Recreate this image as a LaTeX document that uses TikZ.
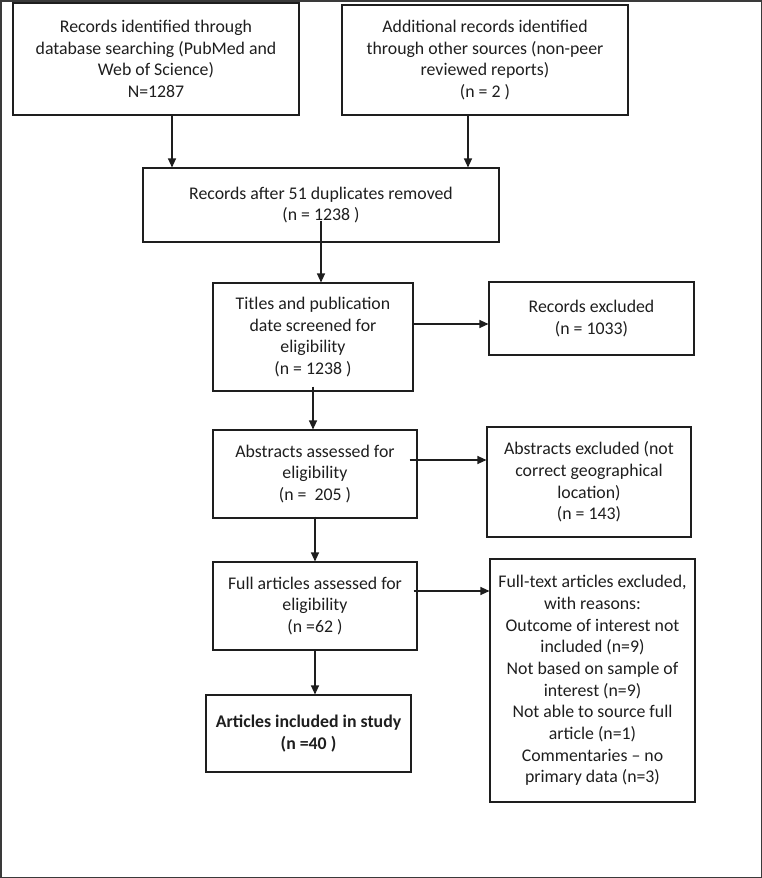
\documentclass[tikz,border=0pt]{standalone}
\usepackage{fontspec}
\setmainfont{Carlito}
\usetikzlibrary{arrows.meta}
\definecolor{ink}{HTML}{1E1E1E}
\definecolor{frame}{HTML}{3A3A3A}

\tikzset{
  box/.style={draw=ink,line width=1.1pt,align=center,inner sep=0pt,text=ink,
    font=\fontsize{17.8}{21.7}\selectfont},
  arr/.style={draw=ink,line width=1.1pt,-{Triangle[length=9pt,width=8pt]}}
}

\begin{document}
\begin{tikzpicture}[x=1pt,y=-1pt]
        \useasboundingbox (0,0) rectangle (762,878);
        \draw[frame,line width=1.5pt] (0.75,0.75) rectangle (761.25,877.25);
        % identification
        \node[box,minimum width=286pt,minimum height=112pt] (db) at (156,59)
          {Records identified through\\database searching (PubMed and\\Web of Science)\\N=1287};
        \node[box,minimum width=286pt,minimum height=110pt] (other) at (485,60)
          {Additional records identified\\through other sources (non-peer\\reviewed reports)\\(n = 2 )};
        \node[box,minimum width=356pt,minimum height=74pt] (dup) at (321,205)
          {Records after 51 duplicates removed\\(n = 1238 )};
        % screening
        \node[box,minimum width=200pt,minimum height=108pt] (titles) at (313,337)
          {Titles and publication\\date screened for\\eligibility\\(n = 1238 )};
        \node[box,minimum width=205pt,minimum height=73pt] (recex) at (591.5,318.5)
          {Records excluded\\(n = 1033)};
        \node[box,minimum width=204pt,minimum height=88pt] (abs) at (315,474)
          {Abstracts assessed for\\eligibility\\(n = \ 205 )};
        \node[box,minimum width=204pt,minimum height=110pt] (absex) at (589,482)
          {Abstracts excluded (not\\correct geographical\\location)\\(n = 143)};
        % eligibility
        \node[box,minimum width=204pt,minimum height=88pt] (full) at (315,606)
          {Full articles assessed for\\eligibility\\(n =62 )};
        \node[box,minimum width=205pt,minimum height=243pt] (fullex) at (592.5,680.5)
          {Full-text articles excluded,\\with reasons:\\Outcome of interest not\\included (n=9)\\Not based on sample of\\interest (n=9)\\Not able to source full\\article (n=1)\\Commentaries -- no\\primary data (n=3)};
        % included
        \node[box,minimum width=205pt,minimum height=77pt,font=\fontsize{17.8}{21.7}\selectfont\bfseries] (incl) at (308.5,733.5)
          {Articles included in study\\(n =40 )};

        \draw[arr] ([xshift=16pt]db.south) -- ([xshift=16pt]db.south |- dup.north);
        \draw[arr] ([xshift=-17pt]other.south) -- ([xshift=-17pt]other.south |- dup.north);
        \draw[arr] ([yshift=22pt]dup.south) -- (dup.south |- titles.north);
        \draw[arr] ([yshift=13pt]titles.east) -- ([yshift=13pt]titles.east -| recex.west);
        \draw[arr] ([yshift=5pt]titles.south) -- (titles.south |- abs.north);
        \draw[arr] ([xshift=-8pt,yshift=14pt]abs.east) -- ([yshift=14pt]abs.east -| absex.west);
        \draw[arr] ([yshift=2pt]abs.south) -- (abs.south |- full.north);
        \draw[arr] ([xshift=-4pt,yshift=15pt]full.east) -- ([yshift=15pt]full.east -| fullex.west);
        \draw[arr] (full.south) -- (full.south |- incl.north);
      \end{tikzpicture}
\end{document}
